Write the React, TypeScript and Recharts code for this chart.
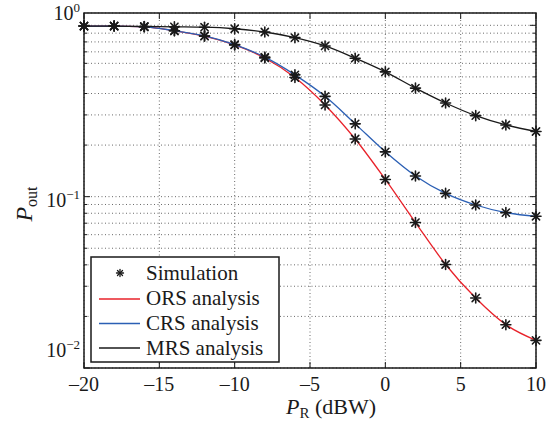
import React from 'react';
import { LineChart, Line, XAxis, YAxis, CartesianGrid } from 'recharts';

// relay transmit power in dBW (one simulation point every 2 dB)
const powerDbw = [-20, -18, -16, -14, -12, -10, -8, -6, -4, -2, 0, 2, 4, 6, 8, 10];
// outage probability
const orsValues = [0.99, 0.99, 0.98, 0.93, 0.865, 0.768, 0.645, 0.496, 0.343, 0.217, 0.126, 0.0706, 0.0402, 0.0256, 0.0179, 0.0145];
const crsValues = [0.99, 0.99, 0.98, 0.93, 0.867, 0.771, 0.652, 0.514, 0.385, 0.266, 0.1826, 0.132, 0.1045, 0.0894, 0.0807, 0.0768];
const mrsValues = [0.99, 0.99, 0.985, 0.98, 0.975, 0.955, 0.914, 0.847, 0.758, 0.643, 0.535, 0.43, 0.352, 0.297, 0.262, 0.24];

const xTicks = [-20, -15, -10, -5, 0, 5, 10];
const yTicks = [0.01, 0.02, 0.03, 0.04, 0.05, 0.06, 0.07, 0.08, 0.09, 0.1, 0.2, 0.3, 0.4, 0.5, 0.6, 0.7, 0.8, 0.9, 1];
const yDecades = [
  { value: 0.01, exp: '\u22122', shift: -11 },
  { value: 0.1, exp: '\u22121', shift: 10 },
  { value: 1, exp: '0', shift: -5 },
];

const data = powerDbw.map((p, i) => ({ p, ors: orsValues[i], crs: crsValues[i], mrs: mrsValues[i] }));

const W = 554;
const H = 427;
const PL = 84;
const PR = 536;
const PT = 13;
const PB = 368;
const FONT = '"Liberation Serif", "Times New Roman", serif';
const RED = '#e8222a';
const BLUE = '#2b5fb4';
const BLACK = '#1a1a1a';

const Asterisk = ({ cx, cy, r = 5, sw = 1.6 }: any) => {
  const d = r * 0.72;
  return (
    <g stroke={BLACK} strokeWidth={sw} strokeLinecap="round">
      <line x1={cx - r} y1={cy} x2={cx + r} y2={cy} />
      <line x1={cx} y1={cy - r} x2={cx} y2={cy + r} />
      <line x1={cx - d} y1={cy - d} x2={cx + d} y2={cy + d} />
      <line x1={cx - d} y1={cy + d} x2={cx + d} y2={cy - d} />
    </g>
  );
};

const simDot = (props: any) => {
  const { cx, cy, index, dataKey } = props;
  if (cx == null || cy == null) return <g key={`${dataKey}-${index}`} />;
  return (
    <g key={`${dataKey}-${index}`}>
      <Asterisk cx={cx} cy={cy} />
    </g>
  );
};

const YTick = ({ y, payload }: any) => {
  const v = payload.value;
  const dec = yDecades.find((d) => Math.abs(d.value - v) < 1e-9);
  const len = dec ? 6 : 3;
  return (
    <g>
      <line x1={PL} x2={PL + len} y1={y} y2={y} stroke={BLACK} strokeWidth={1} />
      <line x1={PR - len} x2={PR} y1={y} y2={y} stroke={BLACK} strokeWidth={1} />
      {dec && (
        <text x={80} y={y + dec.shift} textAnchor="end" fontSize={20} fontFamily={FONT} fill={BLACK}>
          10<tspan dy={-8} fontSize={13}>{dec.exp}</tspan>
        </text>
      )}
    </g>
  );
};

const XTick = ({ x, payload }: any) => {
  const v = payload.value;
  const label = v < 0 ? `\u2013${-v}` : `${v}`;
  return (
    <g>
      <line x1={x} x2={x} y1={PB} y2={PB - 6} stroke={BLACK} strokeWidth={1} />
      <line x1={x} x2={x} y1={PT} y2={PT + 6} stroke={BLACK} strokeWidth={1} />
      <text x={x} y={391} textAnchor="middle" fontSize={20} fontFamily={FONT} fill={BLACK}>
        {label}
      </text>
    </g>
  );
};

const legendRows = [
  { name: 'ORS analysis', color: RED },
  { name: 'CRS analysis', color: BLUE },
  { name: 'MRS analysis', color: BLACK },
];

const App: React.FC = () => {
  return (
    <div style={{ position: 'absolute', left: 0, top: 0, width: W, height: H, background: '#fff' }}>
      <LineChart width={W} height={H} data={data} margin={{ top: PT, right: W - PR, bottom: 0, left: 0 }}>
        <CartesianGrid stroke="#444" strokeWidth={0.8} strokeDasharray="1 2.5" />
        <XAxis
          dataKey="p"
          type="number"
          domain={[-20, 10]}
          ticks={xTicks}
          interval={0}
          height={H - PB}
          axisLine={false}
          tickLine={false}
          tick={<XTick />}
        />
        <YAxis
          type="number"
          scale="log"
          domain={[0.01, 1.18]}
          allowDataOverflow
          ticks={yTicks}
          interval={0}
          width={PL}
          axisLine={false}
          tickLine={false}
          tick={<YTick />}
        />
        <Line type="monotone" dataKey="ors" stroke={RED} strokeWidth={1.3} dot={false} activeDot={false} isAnimationActive={false} />
        <Line type="monotone" dataKey="crs" stroke={BLUE} strokeWidth={1.3} dot={false} activeDot={false} isAnimationActive={false} />
        <Line type="monotone" dataKey="mrs" stroke={BLACK} strokeWidth={1.3} dot={false} activeDot={false} isAnimationActive={false} />
        <Line dataKey="ors" stroke="none" dot={simDot} activeDot={false} isAnimationActive={false} />
        <Line dataKey="crs" stroke="none" dot={simDot} activeDot={false} isAnimationActive={false} />
        <Line dataKey="mrs" stroke="none" dot={simDot} activeDot={false} isAnimationActive={false} />
      </LineChart>

      <svg width={W} height={H} style={{ position: 'absolute', left: 0, top: 0, pointerEvents: 'none' }} fontFamily={FONT}>
        <rect x={PL} y={PT} width={PR - PL} height={PB - PT} fill="none" stroke={BLACK} strokeWidth={1.5} />

        <g transform="translate(32,204) rotate(-90)">
          <text x={0} y={0} textAnchor="middle" fontSize={24} fill={BLACK}>
            <tspan fontStyle="italic">P</tspan>
            <tspan fontSize={16} dy={5}>out</tspan>
          </text>
        </g>
        <text x={331} y={414} textAnchor="middle" fontSize={22} fill={BLACK} style={{ whiteSpace: 'pre' }}>
          <tspan fontStyle="italic">P</tspan>
          <tspan fontSize={15} dy={4}>R</tspan>
          <tspan dy={-4}> (dBW)</tspan>
        </text>

        <rect x={91} y={257} width={188} height={105} fill="#fff" stroke={BLACK} strokeWidth={1.5} />
        <Asterisk cx={120} cy={273} r={3.5} sw={1.3} />
        <text x={146} y={280} fontSize={21} fill={BLACK}>Simulation</text>
        {legendRows.map((row, i) => (
          <g key={row.name}>
            <line x1={99} x2={140} y1={299 + i * 24.5} y2={299 + i * 24.5} stroke={row.color} strokeWidth={1.3} />
            <text x={146} y={305 + i * 25} fontSize={21} fill={BLACK}>{row.name}</text>
          </g>
        ))}
      </svg>
    </div>
  );
};

export default App;
